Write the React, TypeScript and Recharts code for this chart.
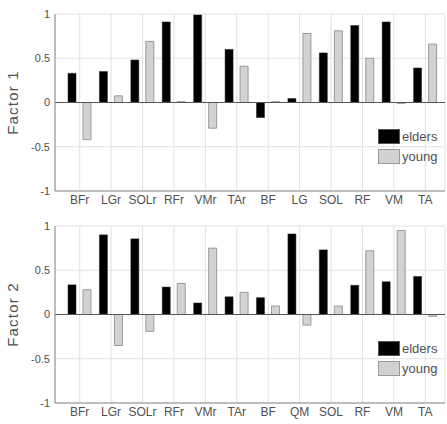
import React from 'react';
import { BarChart, Bar, XAxis, YAxis, CartesianGrid, ReferenceLine } from 'recharts';

const categories1 = ['BFr', 'LGr', 'SOLr', 'RFr', 'VMr', 'TAr', 'BF', 'LG', 'SOL', 'RF', 'VM', 'TA'];
const categories2 = ['BFr', 'LGr', 'SOLr', 'RFr', 'VMr', 'TAr', 'BF', 'QM', 'SOL', 'RF', 'VM', 'TA'];
const elders1 = [0.33, 0.35, 0.48, 0.91, 0.99, 0.6, -0.17, 0.045, 0.56, 0.87, 0.91, 0.39];
const young1 = [-0.42, 0.075, 0.69, 0.01, -0.29, 0.41, 0.01, 0.78, 0.81, 0.5, -0.01, 0.66];
const elders2 = [0.335, 0.9, 0.855, 0.31, 0.13, 0.2, 0.19, 0.91, 0.73, 0.33, 0.37, 0.43];
const young2 = [0.28, -0.35, -0.19, 0.35, 0.75, 0.25, 0.095, -0.12, 0.095, 0.72, 0.95, -0.02];
const yTicks = [-1, -0.5, 0, 0.5, 1];
const seriesNames = ['elders', 'young'];

const FONT = '"Liberation Sans", Arial, sans-serif';
const TEXT = '#505050';
const AXIS = '#8a8a8a';
const GRID = '#e2e2e2';
const BLACK = '#000000';
const GREY = '#d2d2d2';

const LegendBox = ({ top }: { top: number }) => (
  <div style={{ position: 'absolute', left: 378, top, fontFamily: FONT, fontSize: 13, color: TEXT, whiteSpace: 'nowrap' }}>
    {seriesNames.map((n, i) => (
      <div key={n} style={{ display: 'flex', alignItems: 'center', height: 16, marginBottom: 4 }}>
        <div
          style={{
            width: 22,
            height: 15,
            background: i === 0 ? BLACK : GREY,
            border: '1px solid ' + (i === 0 ? '#555' : '#999'),
            boxSizing: 'border-box',
            marginRight: 2,
          }}
        />
        <span>{n}</span>
      </div>
    ))}
  </div>
);

function Panel({ cats, a, b, label }: { cats: string[]; a: number[]; b: number[]; label: string }) {
  const data = cats.map((c, i) => ({ name: c, elders: a[i], young: b[i] }));
  return (
    <BarChart
      width={447}
      height={212}
      data={data}
      margin={{ top: 14, right: 2, left: 0, bottom: 0 }}
      barSize={8}
      barGap={7}
    >
      <CartesianGrid stroke={GRID} strokeWidth={1} />
      <XAxis
        dataKey="name"
        height={21}
        interval={0}
        padding={{ left: 9, right: 4 }}
        tickLine={false}
        tickSize={0}
        tickMargin={4}
        axisLine={{ stroke: AXIS }}
        tick={{ fill: TEXT, fontSize: 12, fontFamily: FONT }}
      />
      <XAxis xAxisId="top" orientation="top" height={0} tick={false} tickLine={false} axisLine={{ stroke: AXIS }} />
      <YAxis
        domain={[-1, 1]}
        ticks={yTicks}
        width={55}
        tickLine={false}
        tickSize={0}
        tickMargin={5}
        axisLine={{ stroke: AXIS }}
        tick={{ fill: TEXT, fontSize: 11, fontFamily: FONT }}
        label={{
          value: label,
          angle: -90,
          position: 'insideLeft',
          offset: 18,
          dx: -5,
          style: { textAnchor: 'middle', fill: TEXT, fontSize: 15, letterSpacing: 1.2, fontFamily: FONT },
        }}
      />
      <YAxis yAxisId="right" orientation="right" width={0} tick={false} tickLine={false} axisLine={{ stroke: AXIS }} />
      <ReferenceLine y={0} stroke="#555" strokeWidth={1} />
      <Bar dataKey="elders" fill={BLACK} stroke="#222" strokeWidth={0.5} isAnimationActive={false} />
      <Bar dataKey="young" fill={GREY} stroke="#9a9a9a" strokeWidth={1} isAnimationActive={false} />
    </BarChart>
  );
}

export default function App() {
  return (
    <div style={{ position: 'absolute', left: 0, top: 0, width: 447, height: 424, overflow: 'hidden', background: '#fff' }}>
      <div style={{ position: 'absolute', left: 0, top: 0 }}>
        <Panel cats={categories1} a={elders1} b={young1} label="Factor 1" />
      </div>
      <div style={{ position: 'absolute', left: 0, top: 212 }}>
        <Panel cats={categories2} a={elders2} b={young2} label="Factor 2" />
      </div>
      <LegendBox top={128} />
      <LegendBox top={340} />
    </div>
  );
}
